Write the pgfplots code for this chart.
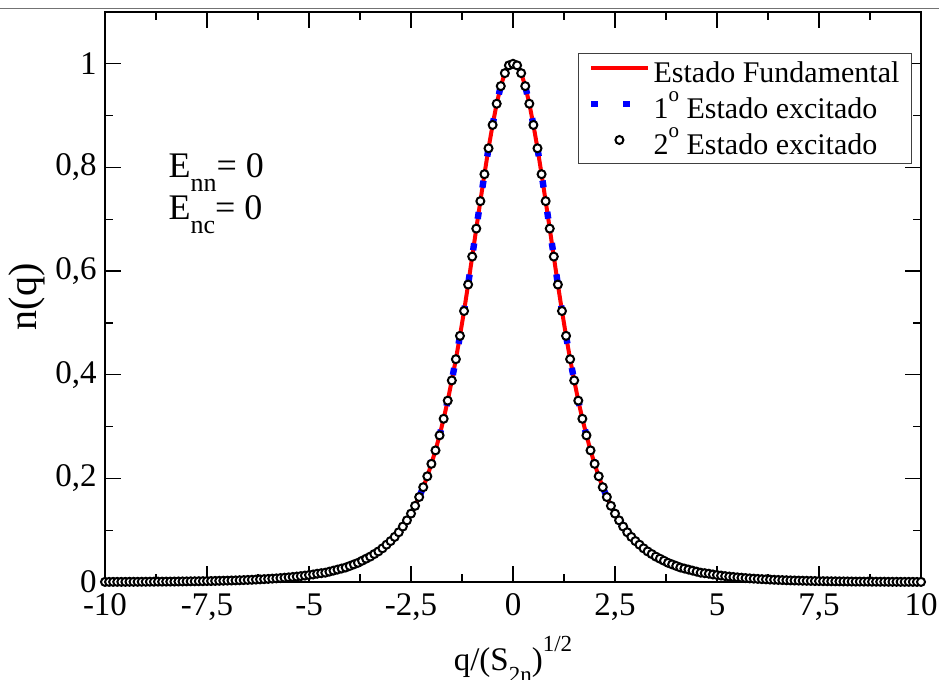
\documentclass[border=0pt]{standalone}
\usepackage{fontspec}
\setmainfont{Liberation Serif}
\usepackage{pgfplots}
\usepackage{pgfplotstable}
\pgfplotsset{compat=1.18}
\pgfplotsset{
  legline/.style={legend image code/.code={\draw[##1] (0pt,2.3pt) -- (28.5pt,2.3pt);}},
  legmark/.style={legend image code/.code={\draw[##1] plot coordinates {(14pt,2.3pt)};}},
}

\pgfplotstableread{
q n
-10.0 0.0002
-9.9 0.0002
-9.8 0.0003
-9.7 0.0003
-9.6 0.0003
-9.5 0.0003
-9.4 0.0004
-9.3 0.0004
-9.2 0.0004
-9.1 0.0005
-9.0 0.0005
-8.9 0.0006
-8.8 0.0006
-8.7 0.0007
-8.6 0.0007
-8.5 0.0008
-8.4 0.0008
-8.3 0.0009
-8.2 0.0010
-8.1 0.0011
-8.0 0.0012
-7.9 0.0013
-7.8 0.0014
-7.7 0.0015
-7.6 0.0016
-7.5 0.0018
-7.4 0.0019
-7.3 0.0021
-7.2 0.0023
-7.1 0.0025
-7.0 0.0027
-6.9 0.0029
-6.8 0.0031
-6.7 0.0034
-6.6 0.0037
-6.5 0.0040
-6.4 0.0043
-6.3 0.0047
-6.2 0.0051
-6.1 0.0055
-6.0 0.0060
-5.9 0.0065
-5.8 0.0070
-5.7 0.0076
-5.6 0.0083
-5.5 0.0090
-5.4 0.0097
-5.3 0.0105
-5.2 0.0114
-5.1 0.0124
-5.0 0.0135
-4.9 0.0145
-4.8 0.016
-4.7 0.017
-4.6 0.018
-4.5 0.020
-4.4 0.022
-4.3 0.024
-4.2 0.026
-4.1 0.028
-4.0 0.031
-3.9 0.034
-3.8 0.037
-3.7 0.041
-3.6 0.045
-3.5 0.049
-3.4 0.054
-3.3 0.059
-3.2 0.065
-3.1 0.072
-3.0 0.079
-2.9 0.087
-2.8 0.096
-2.7 0.107
-2.6 0.119
-2.5 0.132
-2.4 0.147
-2.3 0.164
-2.2 0.183
-2.1 0.204
-2.0 0.228
-1.9 0.254
-1.8 0.283
-1.7 0.315
-1.6 0.350
-1.5 0.389
-1.4 0.430
-1.3 0.475
-1.2 0.523
-1.1 0.574
-1.0 0.628
-0.9 0.682
-0.8 0.735
-0.7 0.787
-0.6 0.837
-0.5 0.882
-0.4 0.923
-0.3 0.957
-0.2 0.982
-0.1 0.997
0.0 1.000
0.1 0.997
0.2 0.982
0.3 0.957
0.4 0.923
0.5 0.882
0.6 0.837
0.7 0.787
0.8 0.735
0.9 0.682
1.0 0.628
1.1 0.574
1.2 0.523
1.3 0.475
1.4 0.430
1.5 0.389
1.6 0.350
1.7 0.315
1.8 0.283
1.9 0.254
2.0 0.228
2.1 0.204
2.2 0.183
2.3 0.164
2.4 0.147
2.5 0.132
2.6 0.119
2.7 0.107
2.8 0.096
2.9 0.087
3.0 0.079
3.1 0.072
3.2 0.065
3.3 0.059
3.4 0.054
3.5 0.049
3.6 0.045
3.7 0.041
3.8 0.037
3.9 0.034
4.0 0.031
4.1 0.028
4.2 0.026
4.3 0.024
4.4 0.022
4.5 0.020
4.6 0.018
4.7 0.017
4.8 0.016
4.9 0.0145
5.0 0.0135
5.1 0.0124
5.2 0.0114
5.3 0.0105
5.4 0.0097
5.5 0.0090
5.6 0.0083
5.7 0.0076
5.8 0.0070
5.9 0.0065
6.0 0.0060
6.1 0.0055
6.2 0.0051
6.3 0.0047
6.4 0.0043
6.5 0.0040
6.6 0.0037
6.7 0.0034
6.8 0.0031
6.9 0.0029
7.0 0.0027
7.1 0.0025
7.2 0.0023
7.3 0.0021
7.4 0.0019
7.5 0.0018
7.6 0.0016
7.7 0.0015
7.8 0.0014
7.9 0.0013
8.0 0.0012
8.1 0.0011
8.2 0.0010
8.3 0.0009
8.4 0.0008
8.5 0.0008
8.6 0.0007
8.7 0.0007
8.8 0.0006
8.9 0.0006
9.0 0.0005
9.1 0.0005
9.2 0.0004
9.3 0.0004
9.4 0.0004
9.5 0.0003
9.6 0.0003
9.7 0.0003
9.8 0.0003
9.9 0.0002
10.0 0.0002
}\datatable

\begin{document}
\begin{tikzpicture}
\begin{axis}[
  scale only axis, width=408pt, height=285pt,
  xmin=-10, xmax=10, ymin=0, ymax=1.1,
  xtick={-10,-7.5,-5,-2.5,0,2.5,5,7.5,10},
  ytick={0,0.2,0.4,0.6,0.8,1},
  minor x tick num=1, minor y tick num=1,
  tick align=inside,
  major tick length=8pt, minor tick length=4pt,
  tick style={black, line width=0.6pt},
  axis line style={line width=1pt},
  clip=false,
  /pgf/number format/.cd, use comma, 1000 sep={}, assume math mode=true,
  /pgfplots/.cd,
  tick label style={font=\fontsize{16.5}{18}\selectfont},
  xticklabel style={inner sep=0pt, yshift=-5.5pt},
  yticklabel style={inner sep=0pt, xshift=-4pt},
  xlabel={q/(S\raisebox{-6pt}{\fontsize{11.5}{12}\selectfont 2n})\raisebox{9.5pt}{\fontsize{11.5}{12}\selectfont 1/2}},
  xlabel style={font=\fontsize{16.5}{18}\selectfont, at={(axis description cs:0.5,0)}, anchor=base, yshift=-44pt, inner sep=0pt},
  ylabel={n(q)},
  ylabel style={font=\fontsize{20}{22}\selectfont, at={(axis description cs:0,0.5)}, anchor=center, rotate=0, yshift=39pt, inner sep=0pt},
  legend style={
    at={(rel axis cs:1,1)}, anchor=north east, xshift=-4.5pt, yshift=-20.5pt,
    draw=black!75, line width=0.6pt,
    font=\fontsize{15}{18}\selectfont,
    inner xsep=5pt, inner ysep=0.5pt,
    nodes={inner sep=1pt, text height=12.8pt, text depth=3.2pt},
    /tikz/every even column/.append style={column sep=6pt},
  },
  legend cell align=left,
]
\addplot[red, line width=2pt, no markers, legline]
  table[x=q, y=n] {\datatable};
\addlegendentry{Estado Fundamental}
\addplot[blue, line width=3.2pt, no markers, dash pattern=on 3.5pt off 12.3pt, legline]
  table[x=q, y=n] {\datatable};
\addlegendentry{1\raisebox{8.3pt}{\fontsize{10.5}{11}\selectfont o} Estado excitado}
\addplot[black, only marks, mark=*, mark size=2pt, line width=1pt,
  mark options={fill=white, draw=black}, legmark]
  table[x=q, y=n] {\datatable};
\addlegendentry{2\raisebox{8.3pt}{\fontsize{10.5}{11}\selectfont o} Estado excitado}

\node[anchor=base west, font=\fontsize{18}{20}\selectfont, inner sep=0pt] at (axis cs:-8.45,0.78)
  {E\raisebox{-7pt}{\fontsize{13}{13}\selectfont nn}= 0};
\node[anchor=base west, font=\fontsize{18}{20}\selectfont, inner sep=0pt] at (axis cs:-8.45,0.699)
  {E\raisebox{-7pt}{\fontsize{13}{13}\selectfont nc}= 0};
\end{axis}
\pgfresetboundingbox
\path[use as bounding box] ([xshift=-52.5pt,yshift=-48.5pt]current axis.south west) rectangle ([xshift=9pt,yshift=6pt]current axis.north east);
\draw[black!55, line width=0.5pt] ([xshift=-52.5pt,yshift=1.5pt]current axis.north west) -- ([xshift=9pt,yshift=1.5pt]current axis.north east);
\end{tikzpicture}
\end{document}
